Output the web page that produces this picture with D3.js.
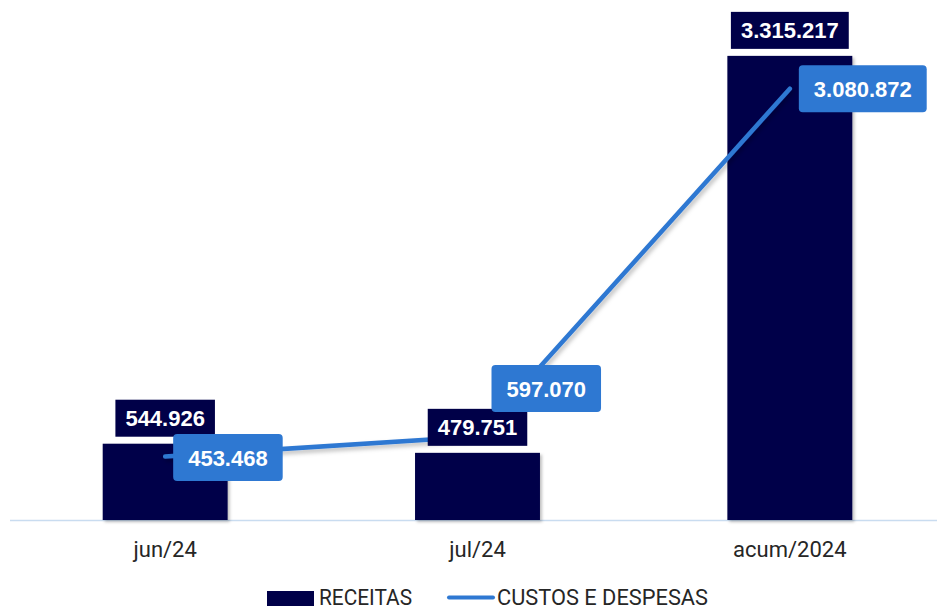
<!DOCTYPE html>
<html>
<head>
<meta charset="utf-8">
<script src="https://cdn.jsdelivr.net/npm/d3@7"></script>
<style>
  html, body { margin: 0; padding: 0; background: #ffffff; }
  svg { display: block; }
</style>
</head>
<body>
<div id="chart"></div>
<script>
// ---- Data ----
const categories = ["jun/24", "jul/24", "acum/2024"];
const receitas = [544926, 479751, 3315217];
const custos = [453468, 597070, 3080872];
const receitasLabels = ["544.926", "479.751", "3.315.217"];
const custosLabels = ["453.468", "597.070", "3.080.872"];
const seriesNames = ["RECEITAS", "CUSTOS E DESPESAS"];

// ---- Layout / styling ----
const W = 937, H = 606;
const NAVY = "#000048";
const BLUE = "#2e78d2";
// line-label placement relative to each point: [dx of box left edge, dy of box centre]
const lineLabelOffsets = [[8, 1], [14, -48], [9, 0]];

const svg = d3.select("#chart").append("svg")
  .attr("width", W).attr("height", H);

const defs = svg.append("defs");
const f1 = defs.append("filter").attr("id", "barShadow")
  .attr("x", "-10%").attr("y", "-10%").attr("width", "130%").attr("height", "130%");
f1.append("feDropShadow").attr("dx", 2).attr("dy", 2).attr("stdDeviation", 1.5)
  .attr("flood-color", "#000").attr("flood-opacity", 0.25);
const f2 = defs.append("filter").attr("id", "lineShadow")
  .attr("x", "-10%").attr("y", "-10%").attr("width", "130%").attr("height", "130%");
f2.append("feDropShadow").attr("dx", 2).attr("dy", 3).attr("stdDeviation", 2)
  .attr("flood-color", "#000").attr("flood-opacity", 0.25);

const x = d3.scaleBand().domain(categories).range([9, 946])
  .paddingInner(0.6).paddingOuter(0.3);
const y = d3.scaleLinear().domain([0, 3500000]).range([520, 30]);

// axis baseline
svg.append("line")
  .attr("x1", 10).attr("x2", W).attr("y1", y(0) + 0.5).attr("y2", y(0) + 0.5)
  .attr("stroke", "#c9dcf0").attr("stroke-width", 1.5);

// x-axis labels via d3 axis
const xAxis = svg.append("g")
  .attr("transform", `translate(0,${y(0)})`)
  .call(d3.axisBottom(x).tickSize(0).tickPadding(21));
xAxis.select(".domain").remove();
xAxis.selectAll("text")
  .attr("font-family", "Roboto, 'Liberation Sans', Arial, sans-serif")
  .attr("font-size", 22)
  .attr("fill", "#262626");

// bars
svg.append("g").selectAll("rect")
  .data(receitas)
  .join("rect")
  .attr("x", (d, i) => x(categories[i]))
  .attr("y", d => y(d))
  .attr("width", x.bandwidth())
  .attr("height", d => y(0) - y(d))
  .attr("fill", NAVY)
  .attr("filter", "url(#barShadow)");

// line
const pts = custos.map((d, i) => [x(categories[i]) + x.bandwidth() / 2, y(d)]);
svg.append("path")
  .attr("d", d3.line()(pts))
  .attr("fill", "none")
  .attr("stroke", BLUE)
  .attr("stroke-width", 4.5)
  .attr("stroke-linecap", "round")
  .attr("stroke-linejoin", "round")
  .attr("filter", "url(#lineShadow)");

const labelFont = "'Liberation Sans', Arial, Helvetica, sans-serif";

// bar labels
const barLab = svg.append("g").selectAll("g")
  .data(receitas)
  .join("g");
barLab.each(function (d, i) {
  const g = d3.select(this);
  const cx = x(categories[i]) + x.bandwidth() / 2;
  const bottom = y(d) - 7;
  const h = 37;
  const rect = g.append("rect").attr("fill", NAVY);
  const t = g.append("text")
    .attr("x", cx).attr("y", bottom - h / 2)
    .attr("text-anchor", "middle").attr("dominant-baseline", "central")
    .attr("font-family", labelFont).attr("font-weight", "bold")
    .attr("font-size", 22).attr("fill", "#ffffff")
    .text(receitasLabels[i]);
  const w = t.node().getComputedTextLength() + 20;
  rect.attr("x", cx - w / 2).attr("y", bottom - h).attr("width", w).attr("height", h);
});

// line labels
const lineLab = svg.append("g").selectAll("g")
  .data(custos)
  .join("g");
lineLab.each(function (d, i) {
  const g = d3.select(this);
  const [px, py] = pts[i];
  const [dx, dy] = lineLabelOffsets[i];
  const h = 47;
  const rect = g.append("rect").attr("fill", BLUE).attr("rx", 4).attr("ry", 4);
  const t = g.append("text")
    .attr("dominant-baseline", "central")
    .attr("font-family", labelFont).attr("font-weight", "bold")
    .attr("font-size", 22).attr("fill", "#ffffff")
    .text(custosLabels[i]);
  const tw = t.node().getComputedTextLength();
  const w = tw + 30;
  const left = px + dx, cy = py + dy;
  rect.attr("x", left).attr("y", cy - h / 2).attr("width", w).attr("height", h);
  t.attr("x", left + 15).attr("y", cy + 1);
});

// legend
const legFont = "Roboto, 'Liberation Sans', Arial, sans-serif";
const leg = svg.append("g");
leg.append("rect").attr("x", 267).attr("y", 591).attr("width", 47).attr("height", 16).attr("fill", NAVY);
leg.append("text").attr("x", 319).attr("y", 605)
  .attr("font-family", legFont).attr("font-size", 21.5).attr("fill", "#262626")
  .attr("textLength", 93).attr("lengthAdjust", "spacingAndGlyphs")
  .text(seriesNames[0]);
leg.append("line").attr("x1", 449).attr("x2", 493).attr("y1", 597.5).attr("y2", 597.5)
  .attr("stroke", BLUE).attr("stroke-width", 4).attr("stroke-linecap", "round");
leg.append("text").attr("x", 497).attr("y", 605)
  .attr("font-family", legFont).attr("font-size", 21.5).attr("fill", "#262626")
  .attr("textLength", 211).attr("lengthAdjust", "spacingAndGlyphs")
  .text(seriesNames[1]);
</script>
</body>
</html>
